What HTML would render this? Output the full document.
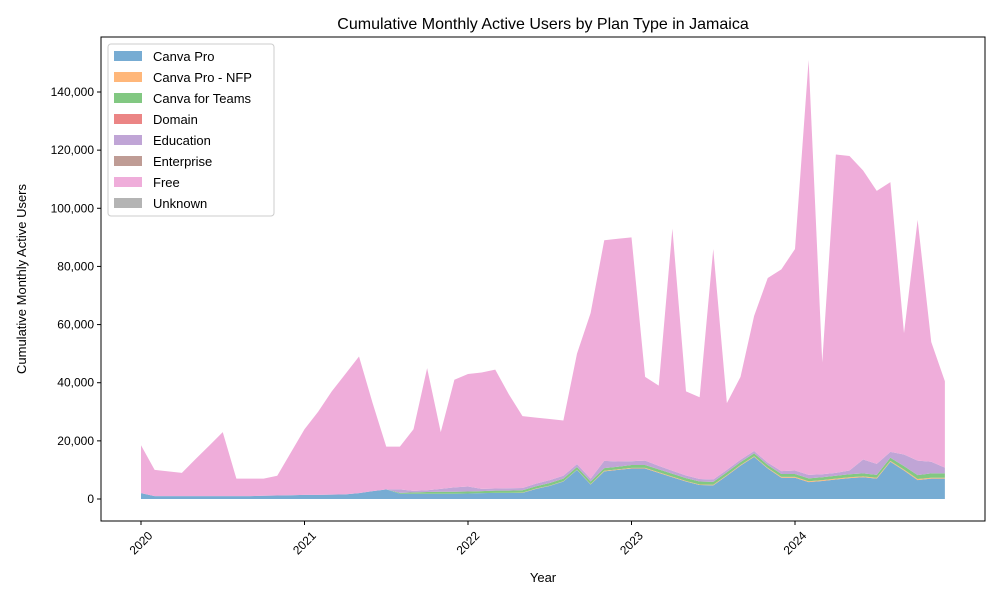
<!DOCTYPE html>
<html><head><meta charset="utf-8"><style>body{margin:0;background:#fff}svg{font-family:"Liberation Sans","DejaVu Sans",sans-serif}</style></head>
<body>
<svg id="c" width="1000" height="600"></svg>
<script>
const months = Array.from({length:60},(_,i)=>i);
const totals = [18500,10000,9500,9000,13700,18300,23000,7000,7000,7000,8000,16000,24000,30000,37000,43000,49000,33000,18000,18000,24000,45000,23000,41000,43000,43500,44500,36000,28500,28000,27500,27000,50000,64000,89000,89500,90000,42000,39000,93000,37000,35000,86000,33000,42000,63000,76000,79000,86000,151000,47000,118500,118000,113000,106000,109000,57000,96000,54000,40500];
const canvaPro = [2000,1000,1000,1000,1000,1000,1000,1000,1000,1100,1200,1300,1400,1400,1500,1600,2000,2700,3300,1800,1800,1800,1800,1800,1900,2000,2100,2100,2100,3500,4500,6000,10000,5000,9500,10000,10500,10500,9000,7500,6000,4800,4700,8000,11500,14500,10500,7300,7300,5800,6200,6700,7200,7500,7000,12800,9800,6500,7000,7000];
const canvaProNFP = [0,0,0,0,0,0,0,0,0,0,0,0,0,0,0,0,0,0,0,0,0,0,0,0,0,0,0,0,100,100,100,100,100,100,200,200,200,200,200,200,200,200,200,200,200,200,200,300,300,300,300,300,300,300,300,300,300,400,300,300];
const canvaTeams = [0,0,0,0,0,0,0,0,0,0,0,0,0,0,0,0,0,0,0,300,500,600,700,700,700,700,800,800,800,800,900,900,900,900,900,900,1000,1000,1000,1000,1000,1000,1000,1000,1000,1000,1000,1000,1000,1000,1000,1000,1000,1000,1000,1100,1200,1300,1500,1500];
const domain = new Array(60).fill(0);
const education = [0,0,0,0,0,0,0,0,0,0,0,0,0,0,0,0,0,0,0,1200,500,600,1000,1500,1700,800,700,800,800,900,1000,1000,1000,1000,2500,1800,1300,1500,1200,1000,900,900,800,800,800,800,800,1000,1200,1200,1000,1000,1300,4800,3800,2000,4000,5000,4000,2000];
const enterprise = new Array(60).fill(0);
const unknown = new Array(60).fill(0);
const yTicks = [0,20000,40000,60000,80000,100000,120000,140000];
const xTickYears = [2020,2021,2022,2023,2024];
const seriesNames = ["Canva Pro","Canva Pro - NFP","Canva for Teams","Domain","Education","Enterprise","Free","Unknown"];
const colors = ["#77acd3","#ffb77a","#82c882","#eb8585","#c0a5d6","#bf9c95","#efadda","#b4b4b4"];

const NS="http://www.w3.org/2000/svg";
const svg=document.getElementById('c');
function el(t,a,p){const e=document.createElementNS(NS,t);for(const k in a)e.setAttribute(k,a[k]);(p||svg).appendChild(e);return e;}
const L=101,R=985,T=37,B=521;
const X=i=>141+i*163.5/12;
const Y=v=>499-v*(407/140000);
const free=totals.map((t,i)=>Math.max(0,t-canvaPro[i]-canvaProNFP[i]-canvaTeams[i]-domain[i]-education[i]-enterprise[i]-unknown[i]));
const series=[canvaPro,canvaProNFP,canvaTeams,domain,education,enterprise,free,unknown];
let base=new Array(60).fill(0);
series.forEach((s,k)=>{
  const top=base.map((b,i)=>b+s[i]);
  let d='M'+months.map(i=>X(i)+','+Y(top[i])).join(' L');
  for(let i=59;i>=0;i--) d+=' L'+X(i)+','+Y(base[i]);
  const p=el('path',{d:d+'Z',fill:colors[k]});
  
  
  base=top;
});
const fr=el('rect',{x:L,y:T,width:R-L,height:B-T,fill:'none',stroke:'#000','stroke-width':1});

yTicks.forEach(v=>{
  el('line',{x1:L-4,x2:L,y1:Y(v),y2:Y(v),stroke:'#000'});
  const t=el('text',{x:L-7,y:Y(v)+4,'text-anchor':'end','font-size':12});t.textContent=v.toLocaleString('en-US');
  
});
xTickYears.forEach((yr,j)=>{
  const x=X(j*12);
  el('line',{x1:x,x2:x,y1:B,y2:B+4,stroke:'#000'});
  const cy=B+22;
  const t=el('text',{x:x,y:cy+4,'text-anchor':'middle','font-size':12,transform:`rotate(-45 ${x} ${cy})`});t.textContent=yr;
  
});
let t=el('text',{x:543,y:29,'text-anchor':'middle','font-size':16});t.textContent='Cumulative Monthly Active Users by Plan Type in Jamaica';

t=el('text',{x:543,y:582,'text-anchor':'middle','font-size':13});t.textContent='Year';

t=el('text',{x:26,y:279,'text-anchor':'middle','font-size':13,transform:'rotate(-90 26 279)'});t.textContent='Cumulative Monthly Active Users';

const lg=el('g',{});
el('rect',{x:108,y:44,width:166,height:172,rx:3,fill:'#fff','fill-opacity':0.8,stroke:'#ccc'},lg);
seriesNames.forEach((n,k)=>{
  const g=el('g',{},lg);
  const y=56+k*21;
  el('rect',{x:114,y:y-5,width:28,height:10,fill:colors[k]},g);
  const tx=el('text',{x:153,y:y+5,'font-size':13},g);tx.textContent=n;
});
</script>
</body></html>
